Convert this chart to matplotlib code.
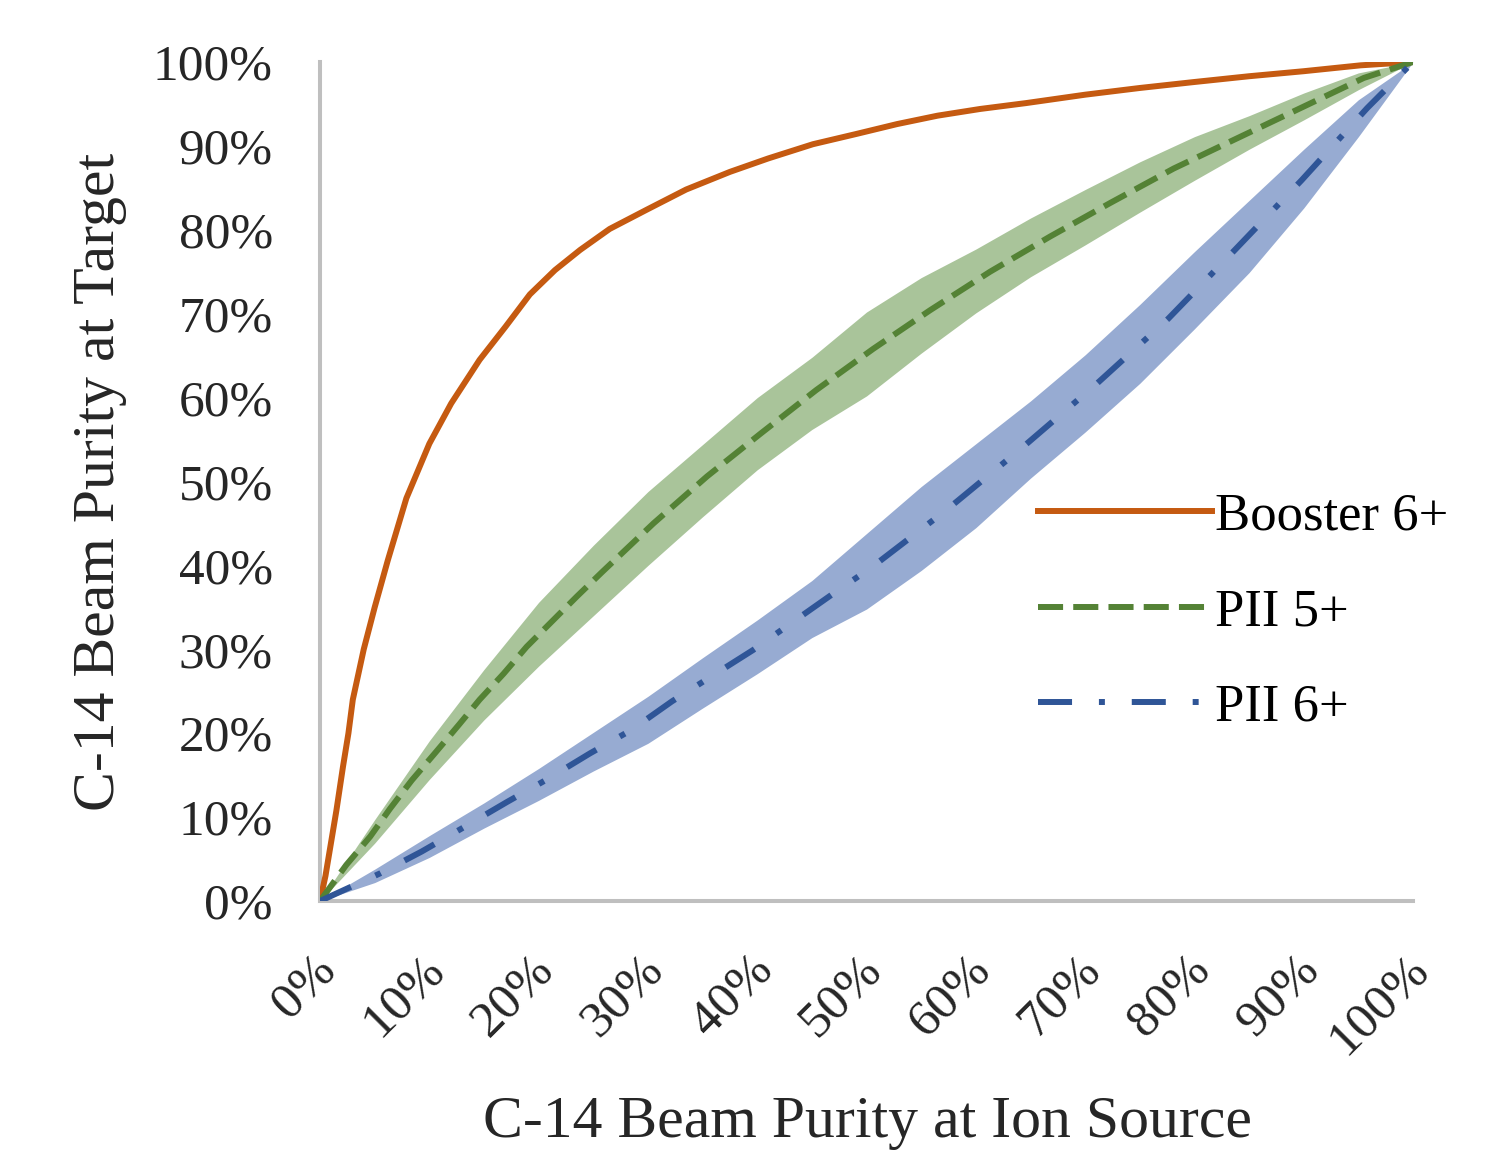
import matplotlib
matplotlib.use("Agg")
from matplotlib import pyplot as plt
from matplotlib.ticker import FuncFormatter
from matplotlib.transforms import ScaledTranslation

plt.rcParams["font.family"] = ["Liberation Serif", "DejaVu Serif"]

# values, all in percent
booster_x = [0, 0.5, 1.5, 2.1, 2.6, 3.0, 4.0, 5.0, 6.2, 7.9, 10, 12, 14.6, 17, 19.2, 21.5, 23.8, 26.5,
             29.9, 33.5, 37.5, 41, 45.1, 49, 52.8, 56.5, 60.4, 64.6, 70, 75, 79.9, 85, 90, 95.2, 100]
booster_y = [0, 3, 10.8, 16, 20, 24, 30, 35, 40.6, 48, 54.5, 59.3, 64.5, 68.5, 72.3, 75.2, 77.6, 80.1,
             82.4, 84.8, 86.9, 88.5, 90.2, 91.4, 92.6, 93.6, 94.4, 95.1, 96.1, 96.9, 97.6, 98.3, 98.9, 99.6, 100]

pii5_x = [0, 2.4, 4.6, 6.4, 8.4, 10.5, 12.7, 14.6, 16.8, 18.9, 21.2, 23.5, 25.8, 30.5, 35.4, 40.3,
          45.4, 50.6, 55.8, 61.3, 66.8, 72.3, 78.1, 83.9, 89.7, 95.5, 100]
pii5_y = [0, 4.3, 7.7, 11, 14.4, 17.6, 21, 24, 27.1, 30.3, 33.3, 36.3, 39.2, 45, 50.6, 55.7,
          60.9, 65.8, 70.4, 75, 79.2, 83.2, 87.3, 90.9, 94.5, 98.1, 100]

pii6_x = [0, 5.5, 9.3, 13.3, 17.1, 20.9, 24.7, 28.5, 32.2, 39.6, 46.8, 50.5, 57.5, 64.3, 71.1,
          77.6, 83.7, 89.8, 95.8, 100]
pii6_y = [0, 3.3, 5.9, 8.9, 11.8, 14.6, 17.6, 20.4, 23.8, 29.9, 36.5, 39.8, 46.8, 54.1, 61.7,
          69.4, 77.6, 85.9, 94.5, 100]

band_x = [0, 5, 10, 15, 20, 25, 30, 35, 40, 45, 50, 55, 60, 65, 70, 75, 80, 85, 90, 95, 100]
pii5_hi = [0, 9.7, 19.1, 27.6, 35.6, 42.4, 48.8, 54.4, 60, 64.8, 70.2, 74.3, 77.7, 81.4, 84.8,
           88.1, 91.1, 93.6, 96.3, 98.7, 100]
pii5_lo = [0, 6.9, 14.5, 21.6, 28, 34, 40, 45.8, 51.4, 56.2, 60.2, 65.3, 70.1, 74.4, 78.2,
           82.1, 85.9, 89.6, 93.1, 96.7, 100]
pii6_hi = [0, 3.8, 7.8, 11.7, 15.8, 20.1, 24.4, 29, 33.5, 38.2, 43.8, 49.4, 54.5, 59.6, 65.1,
           71.1, 77.4, 83.5, 89.6, 95.5, 100]
pii6_lo = [0, 2.2, 5.2, 8.7, 12, 15.5, 18.8, 23, 27.1, 31.4, 34.8, 39.4, 44.5, 50.4, 55.9,
           61.7, 68.2, 74.9, 82.6, 91.1, 100]

ticks = list(range(0, 101, 10))

fig = plt.figure(figsize=(15.01, 11.54), dpi=100)
ax = fig.add_axes([0.2132, 0.2192, 0.7282, 0.7271])

ax.fill_between(band_x, pii5_lo, pii5_hi, color="#A9C49A", lw=0, zorder=1)
ax.fill_between(band_x, pii6_lo, pii6_hi, color="#97ABD2", lw=0, zorder=1)

ax.plot(booster_x, booster_y, color="#C55A11", lw=4.3, label="Booster 6+", zorder=3)
ax.plot(pii5_x, pii5_y, color="#548235", lw=4.3, dashes=(4.2, 1.7), label="PII 5+", zorder=3)
ax.plot(pii6_x, pii6_y, color="#2F5597", lw=4.3, dashes=(5.7, 4.5, 1, 4.5), label="PII 6+", zorder=3)

ax.set_xlim(0, 100)
ax.set_ylim(0, 100)
ax.set_xticks(ticks)
ax.set_yticks(ticks)
fmt = FuncFormatter(lambda v, p: "%d%%" % v)
ax.xaxis.set_major_formatter(fmt)
ax.yaxis.set_major_formatter(fmt)

for s in ["top", "right"]:
    ax.spines[s].set_visible(False)
for s in ["left", "bottom"]:
    ax.spines[s].set_color("#BFBFBF")
    ax.spines[s].set_linewidth(2.9)

ax.tick_params(axis="y", length=0, pad=34, labelsize=37, colors="#262626")
ax.tick_params(axis="x", length=0, pad=44, labelsize=37, colors="#262626")
shift = ScaledTranslation(8 / 100, 0, fig.dpi_scale_trans)
for lab in ax.get_xticklabels():
    lab.set_rotation(45)
    lab.set_ha("right")
    lab.set_va("center")
    lab.set_rotation_mode("anchor")
    lab.set_transform(lab.get_transform() + shift)

ax.set_xlabel("C-14 Beam Purity at Ion Source", fontsize=43, color="#262626")
ax.set_ylabel("C-14 Beam Purity at Target", fontsize=43, color="#262626")
ax.xaxis.label.set_va("center")
ax.yaxis.label.set_va("center")
ax.xaxis.set_label_coords(0.501, -0.265)
ax.yaxis.set_label_coords(-0.201, 0.5)

ax.legend(loc="center left", bbox_to_anchor=(1038 / 1501, 1 - 612 / 1154),
          bbox_transform=fig.transFigure, frameon=False, fontsize=38,
          handlelength=3.3, handletextpad=0.05, labelspacing=0.9,
          borderpad=0, borderaxespad=0)

fig.savefig("out.png", dpi=100, facecolor="white")
